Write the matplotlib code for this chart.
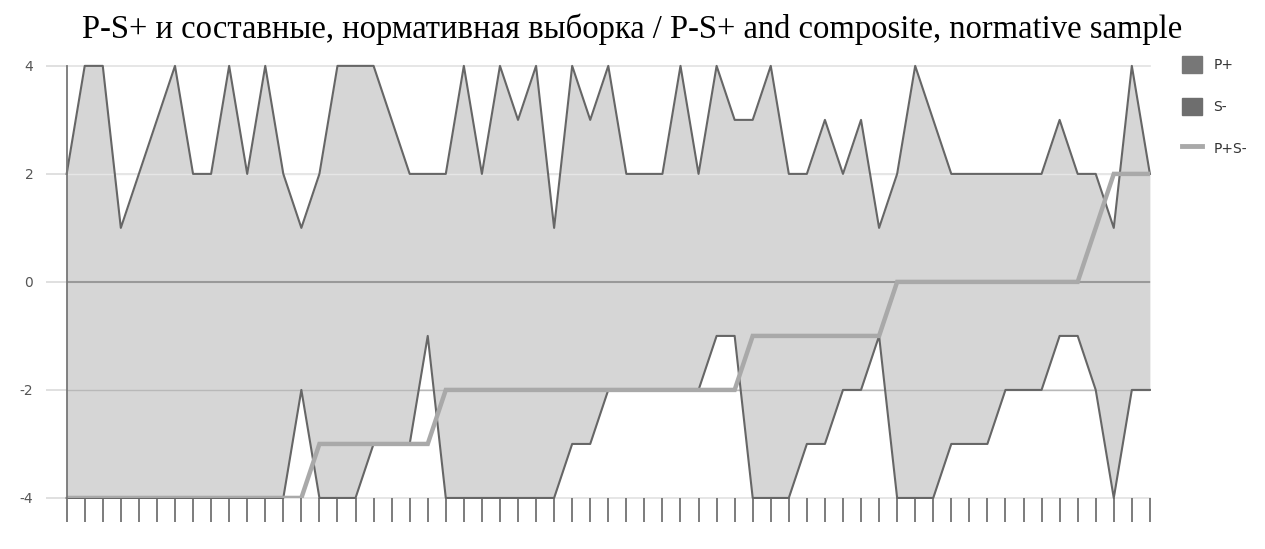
import matplotlib
matplotlib.use('Agg')
import matplotlib.pyplot as plt
from matplotlib.patches import Patch
from matplotlib.lines import Line2D

# P+ (upper area), S- (lower area), P+S- composite, one value per respondent
p_plus = [2, 4, 4, 1, 2, 3, 4, 2, 2, 4, 2, 4, 2, 1, 2, 4, 4, 4, 3, 2,
          2, 2, 4, 2, 4, 3, 4, 1, 4, 3, 4, 2, 2, 2, 4, 2, 4, 3, 3, 4,
          2, 2, 3, 2, 3, 1, 2, 4, 3, 2, 2, 2, 2, 2, 2, 3, 2, 2, 1, 4, 2]
s_minus = [-4, -4, -4, -4, -4, -4, -4, -4, -4, -4, -4, -4, -4, -2, -4, -4, -4, -3, -3, -3,
           -1, -4, -4, -4, -4, -4, -4, -4, -3, -3, -2, -2, -2, -2, -2, -2, -1, -1, -4, -4,
           -4, -3, -3, -2, -2, -1, -4, -4, -4, -3, -3, -3, -2, -2, -2, -1, -1, -2, -4, -2, -2]
p_s = [-4, -4, -4, -4, -4, -4, -4, -4, -4, -4, -4, -4, -4, -4, -3, -3, -3, -3, -3, -3,
       -3, -2, -2, -2, -2, -2, -2, -2, -2, -2, -2, -2, -2, -2, -2, -2, -2, -2, -1, -1,
       -1, -1, -1, -1, -1, -1, 0, 0, 0, 0, 0, 0, 0, 0, 0, 0, 0, 1, 2, 2, 2]
y_ticks = [-4, -2, 0, 2, 4]
legend_labels = ['P+', 'S-', 'P+S-']

x = list(range(len(p_plus)))

fill_col = '#d6d6d6'
edge_col = '#666666'
comp_col = '#a9a9a9'

fig = plt.figure(figsize=(12.65, 5.49), dpi=100)
ax = fig.add_axes([0.0527, 0.093, 0.8563, 0.787])

for yv in y_ticks:
    ax.axhline(yv, color='#e2e2e2', lw=1.2, zorder=0, clip_on=False)

ax.fill_between(x, 0, p_plus, color=fill_col, lw=0, zorder=1)
ax.fill_between(x, 0, s_minus, color=fill_col, lw=0, zorder=1)
ax.axhline(2, color='#e6e6e6', lw=1.0, zorder=1.5)
ax.axhline(-2, color='#b8b8b8', lw=1.0, zorder=1.5)
ax.axhline(0, color='#999999', lw=1.5, zorder=2)
ax.plot(x, p_plus, color=edge_col, lw=1.5, zorder=3, clip_on=False)
ax.plot(x, s_minus, color=edge_col, lw=1.5, zorder=3, clip_on=False)
ax.plot(x, p_s, color=comp_col, lw=3.2, zorder=4, solid_joinstyle='miter')

ax.set_xlim(0, len(x) - 1)
ax.set_ylim(-4, 4)
for side in ['top', 'right', 'bottom']:
    ax.spines[side].set_visible(False)
ax.spines['left'].set_color('#777777')
ax.spines['left'].set_linewidth(1.3)
ax.spines['left'].set_zorder(5)

ax.set_xticks(x)
ax.set_xticklabels([])
ax.tick_params(axis='x', direction='out', length=17, width=1.2, color='#666666')
ax.set_yticks(y_ticks)
ax.set_yticklabels([str(v) for v in y_ticks])
ax.tick_params(axis='y', direction='out', length=15, width=1.2, color='#dadada',
               labelsize=10, labelcolor='#555555', pad=9)

fig.suptitle('P-S+ и составные, нормативная выборка / P-S+ and composite, normative sample',
             fontfamily='Liberation Serif', fontsize=23.5, x=0.5, y=0.975)

handles = [Patch(facecolor='#777777', edgecolor='#777777'),
           Patch(facecolor='#6e6e6e', edgecolor='#6e6e6e'),
           Line2D([0], [0], color=comp_col, lw=3.5)]
leg = fig.legend(handles, legend_labels, loc='upper left', bbox_to_anchor=(0.934, 0.898),
                 frameon=False, fontsize=10, handlelength=1.5, handleheight=1.5,
                 labelspacing=1.8, handletextpad=0.8, borderaxespad=0, borderpad=0)
for t in leg.get_texts():
    t.set_color('#333333')

fig.savefig('out.png', dpi=100)
